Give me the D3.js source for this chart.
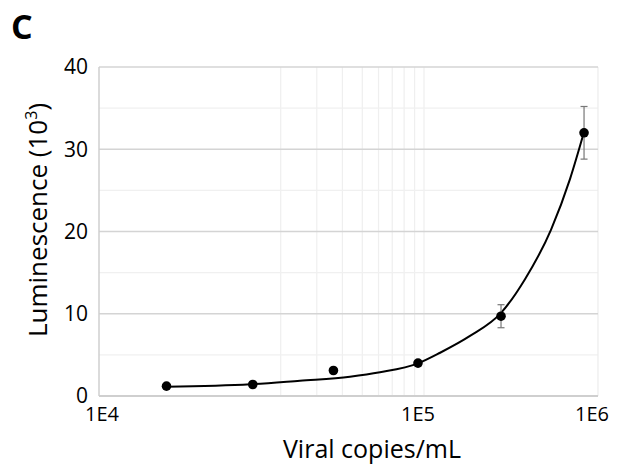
<!DOCTYPE html>
<html>
<head>
<meta charset="utf-8">
<script src="https://cdn.jsdelivr.net/npm/d3@7"></script>
<style>
  body { margin: 0; background: #fff; }
  svg { display: block; font-family: "Open Sans", sans-serif; }
</style>
</head>
<body>
<svg id="chart" width="622" height="473"></svg>
<script>
// values
var xTicks = [1e4, 1e5, 1e6];
var xLabels = ["1E4", "1E5", "1E6"];
var yTicks = [0, 10, 20, 30, 40];
var yMinor = [5, 15, 25, 35];
var gridVals = [2e4, 3e4, 4e4, 5e4, 6e4, 7e4, 8e4, 9e4, 1e5];

var copies = [1.6e4, 3.0e4, 5.4e4, 1.0e5, 3.0e5, 9.0e5];
var lum = [1.2, 1.4, 3.1, 4.0, 9.7, 32.0];
var lumErr = [0.2, 0.2, 0.3, 0.3, 1.4, 3.2];

// trendline
var fitX = [1.6e4, 2.95e4, 4.23e4, 6.09e4, 7.58e4, 1.0e5, 1.34e5, 1.99e5, 3.0e5, 4.12e5, 5.81e5, 7.48e5, 9.0e5];
var fitY = [1.13, 1.42, 1.86, 2.34, 2.88, 3.97, 5.26, 7.3, 10.1, 14.2, 20.2, 26.4, 32.1];

var svg = d3.select('#chart');
var pLeft = 99, pRight = 598, pTop = 67, pBottom = 396;

// the published axis is not evenly spaced per decade
var x = d3.scaleLog().domain(xTicks).range([102, 418, 592]);
var gridX = d3.scaleLog().domain([1e4, 1e5]).range([219, 424]);
var y = d3.scaleLinear().domain([0, 40]).range([pBottom, pTop]);

// minor grid
svg.append('g')
    .selectAll('line')
    .data(gridVals)
    .enter()
    .append('line')
    .attr('x1', function (d) { return gridX(d); })
    .attr('x2', function (d) { return gridX(d); })
    .attr('y1', pTop)
    .attr('y2', pBottom)
    .attr('stroke', '#efefef')
    .attr('stroke-width', 1.2);

svg.append('g')
    .selectAll('line')
    .data(yMinor)
    .enter()
    .append('line')
    .attr('x1', pLeft)
    .attr('x2', pRight)
    .attr('y1', function (d) { return y(d); })
    .attr('y2', function (d) { return y(d); })
    .attr('stroke', '#f0f0f0')
    .attr('stroke-width', 1.2);

// right border
svg.append('line')
    .attr('x1', pRight).attr('x2', pRight)
    .attr('y1', pTop).attr('y2', pBottom)
    .attr('stroke', '#ececec')
    .attr('stroke-width', 1.2);

// major grid
svg.append('g')
    .selectAll('line')
    .data(yTicks)
    .enter()
    .append('line')
    .attr('x1', pLeft)
    .attr('x2', pRight)
    .attr('y1', function (d) { return y(d); })
    .attr('y2', function (d) { return y(d); })
    .attr('stroke', function (d) { return d === 0 ? '#cfcfcf' : '#d4d4d4'; })
    .attr('stroke-width', function (d) { return d === 0 ? 2 : 1.5; });

svg.append('line')
    .attr('x1', pLeft).attr('x2', pLeft)
    .attr('y1', pTop).attr('y2', pBottom)
    .attr('stroke', '#cfcfcf')
    .attr('stroke-width', 1.5);

// tick labels
svg.append('g')
    .selectAll('text')
    .data(yTicks)
    .enter()
    .append('text')
    .attr('x', 88)
    .attr('y', function (d) { return y(d); })
    .attr('dy', '0.35em')
    .attr('text-anchor', 'end')
    .attr('font-size', 21)
    .attr('fill', '#000')
    .text(function (d) { return d; });

svg.append('g')
    .selectAll('text')
    .data(xTicks)
    .enter()
    .append('text')
    .attr('x', function (d) { return x(d); })
    .attr('y', 421)
    .attr('text-anchor', 'middle')
    .attr('font-size', 20)
    .attr('fill', '#000')
    .text(function (d, i) { return xLabels[i]; });

// titles
svg.append('text')
    .attr('x', 372)
    .attr('y', 458)
    .attr('text-anchor', 'middle')
    .attr('font-size', 25)
    .text('Viral copies/mL');

var yt = svg.append('text')
    .attr('transform', 'translate(47,220) rotate(-90)')
    .attr('text-anchor', 'middle')
    .attr('font-size', 26);
yt.append('tspan').text('Luminescence (10');
yt.append('tspan').attr('font-size', 16).attr('dy', -10).text('3');
yt.append('tspan').attr('dy', 10).text(')');

svg.append('text')
    .attr('x', 11)
    .attr('y', 39)
    .attr('font-size', 34)
    .attr('font-weight', 'bold')
    .text('C');

// trendline
var line = d3.line()
    .x(function (d, i) { return x(d); })
    .y(function (d, i) { return y(fitY[i]); })
    .curve(d3.curveMonotoneX);

svg.append('path')
    .attr('d', line(fitX))
    .attr('fill', 'none')
    .attr('stroke', '#000')
    .attr('stroke-width', 2);

// error bars
var eb = svg.append('g')
    .selectAll('g')
    .data(copies)
    .enter()
    .append('g')
    .attr('stroke', '#777')
    .attr('stroke-width', 1.2);

eb.append('line')
    .attr('x1', function (d) { return x(d); })
    .attr('x2', function (d) { return x(d); })
    .attr('y1', function (d, i) { return y(lum[i] + lumErr[i]); })
    .attr('y2', function (d, i) { return y(lum[i] - lumErr[i]); });

eb.append('line')
    .attr('x1', function (d) { return x(d) - 3.5; })
    .attr('x2', function (d) { return x(d) + 3.5; })
    .attr('y1', function (d, i) { return y(lum[i] + lumErr[i]); })
    .attr('y2', function (d, i) { return y(lum[i] + lumErr[i]); });

eb.append('line')
    .attr('x1', function (d) { return x(d) - 3.5; })
    .attr('x2', function (d) { return x(d) + 3.5; })
    .attr('y1', function (d, i) { return y(lum[i] - lumErr[i]); })
    .attr('y2', function (d, i) { return y(lum[i] - lumErr[i]); });

// points
svg.append('g')
    .selectAll('circle')
    .data(copies)
    .enter()
    .append('circle')
    .attr('cx', function (d) { return x(d); })
    .attr('cy', function (d, i) { return y(lum[i]); })
    .attr('r', 4.8)
    .attr('fill', '#000');
</script>
</body>
</html>
